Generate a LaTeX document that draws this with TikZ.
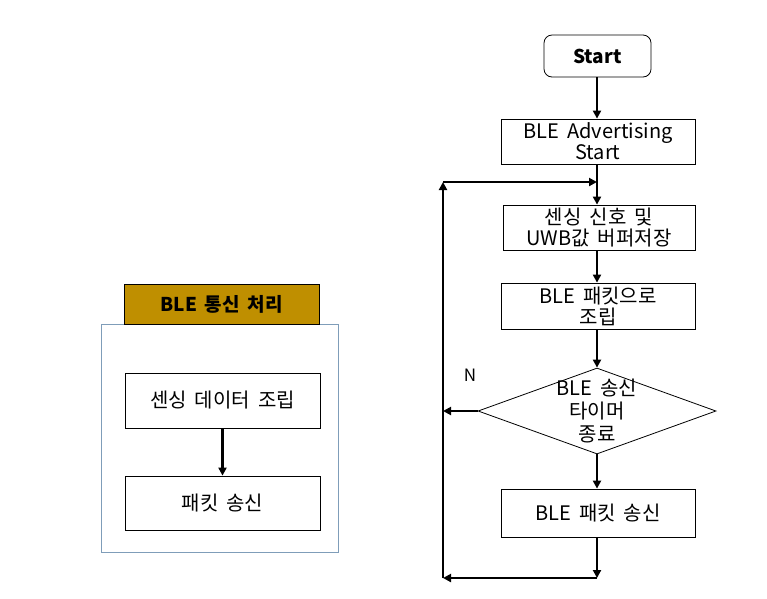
\documentclass[tikz,border=0pt]{standalone}
\usepackage{fontspec}
\setmainfont[WordSpace=1.8]{Noto Sans CJK KR}
\usetikzlibrary{arrows.meta,shapes.geometric}
\definecolor{gold}{HTML}{BF8F00}
\definecolor{panelblue}{HTML}{7F9DB9}
\begin{document}
\begin{tikzpicture}[x=1pt,y=-1pt,
  txt/.style={font=\fontsize{20}{21}\selectfont},
  box/.style={draw, line width=0.8pt, minimum width=194pt, minimum height=45pt, inner sep=0pt, align=center, txt},
  arr/.style={line width=2.4pt, -{Triangle[length=8pt,width=8pt]}}]
\useasboundingbox (0,0) rectangle (767,598);
% ---- left panel ----
\node[draw=panelblue, line width=0.8pt, minimum width=237pt, minimum height=228pt, inner sep=0pt] (panel) at (219.5,438) {};
\node[draw, fill=gold, line width=0.8pt, minimum width=195pt, minimum height=40pt, inner sep=0pt, font=\fontsize{19}{21}\selectfont\bfseries] (hdr) at (221.5,304) {BLE 통신 처리};
\node[box, minimum width=195pt, minimum height=55pt] (l1) at (222.5,400.5) {센싱 데이터 조립};
\node[box, minimum width=195pt, minimum height=54pt] (l2) at (222.5,503) {패킷 송신};
\draw[arr] (l1) -- (l2);
% ---- flowchart ----
\node[draw, rounded corners=8pt, line width=0.8pt, minimum width=107pt, minimum height=42pt, inner sep=0pt, font=\fontsize{19}{21}\selectfont\bfseries] (start) at (597.5,56) {Start};
\node[box] (adv) at (598,141.5) {BLE Advertising\\Start};
\node[box, minimum width=192pt] (sense) at (599,227.5) {센싱 신호 및\\UWB값 버퍼저장};
\node[box, minimum height=46pt] (pkt) at (598,306) {BLE 패킷으로\\조립};
\node[diamond, draw, line width=0.8pt, minimum width=238pt, minimum height=86pt, inner sep=0pt] (dec) at (597,411) {};
\node[align=center, font=\fontsize{20}{23}\selectfont] (dectxt) at (dec) {BLE 송신\\타이머\\종료};
\node[box, minimum height=48pt] (send) at (598,513) {BLE 패킷 송신};
\node[font=\fontsize{17}{20}\selectfont] (nlab) at (470,375) {N};
\coordinate (lt) at (443,182);
\coordinate (lb) at (443,578);
\coordinate (jt) at (597,182);
\coordinate (jb) at (597,578);
\draw[arr] (start.south -| jt) -- (adv.north -| jt);
\draw[arr] (adv.south -| jt) -- (sense.north -| jt);
\draw[arr] (lt) -- (jt);
\draw[arr] (sense.south -| jt) -- (pkt.north -| jt);
\draw[arr] (pkt.south -| jt) -- (dec.north);
\draw[arr] (dec.south) -- (send.north -| jt);
\draw[arr] (dec.west) -- (dec.west -| lt);
\draw[arr] (send.south -| jb) -- (jb);
\draw[arr] (jb) -- (lb);
\draw[arr] (lb) -- (lt);
\end{tikzpicture}
\end{document}
